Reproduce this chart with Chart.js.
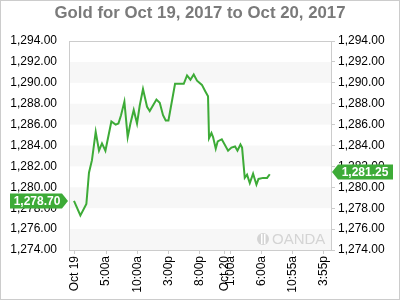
<!DOCTYPE html>
<html>
<head>
<meta charset="utf-8">
<script src="https://cdn.jsdelivr.net/npm/chart.js@4.4.1/dist/chart.umd.min.js"></script>
<style>
  html, body { margin: 0; padding: 0; background: #fff; }
  canvas { display: block; }
</style>
</head>
<body>
<canvas id="goldChart" width="400" height="300"></canvas>
<script>
// hours since Oct 19 00:00
const hours = [-0.16, 0.87, 1.83, 2.25, 2.73, 3.33, 3.86, 4.34, 4.89, 5.85, 6.54, 6.98, 7.40, 7.94, 8.47, 8.91, 9.44, 9.97, 10.40, 10.93,
  11.58, 12.01, 13.09, 13.62, 14.15, 14.58, 15.02, 16.08, 17.48, 18.01, 18.55, 19.08, 19.61, 20.40, 20.93, 21.38, 21.54, 21.93, 22.19,
  22.62, 22.94, 23.59, 24.60, 25.14, 25.72, 26.11, 26.59, 26.85, 27.28, 27.65, 28.09, 28.62, 29.16, 29.49, 30.23, 30.87, 31.30];
const prices = [1278.7, 1277.3, 1278.4, 1281.4, 1282.6, 1285.3, 1283.5, 1284.2, 1283.5, 1286.3, 1286.0, 1286.1, 1286.9, 1288.2, 1284.8,
  1286.1, 1287.4, 1286.1, 1287.8, 1289.4, 1287.7, 1287.3, 1288.4, 1288.1, 1286.9, 1286.4, 1286.4, 1289.9, 1289.9, 1290.7, 1290.3,
  1290.8, 1290.2, 1289.8, 1289.2, 1288.7, 1284.7, 1285.2, 1284.8, 1283.7, 1284.4, 1284.6, 1283.5, 1283.8, 1283.9, 1283.5, 1284.1,
  1283.8, 1280.9, 1281.2, 1280.4, 1281.3, 1280.25, 1280.8, 1280.9, 1280.9, 1281.25];

const tickHours = [0, 5, 10, 15, 20, 24, 25, 30, 34.92, 39.92];
const tickLabels = ['Oct 19', '5:00a', '10:00a', '3:00p', '8:00p', 'Oct 20', '1:00a', '6:00a', '10:55a', '3:55p'];

const yMin = 1274, yMax = 1294, yStep = 2;
const titleText = 'Gold for Oct 19, 2017 to Oct 20, 2017';

const green = '#3dab37';
const fmt = v => v.toLocaleString('en-US', { minimumFractionDigits: 2, maximumFractionDigits: 2 });

// bands, border, watermark, title, price badges
const decorPlugin = {
  id: 'decor',
  beforeDatasetsDraw(chart) {
    const { ctx, chartArea: a, scales } = chart;
    const y = scales.y;
    ctx.save();
    ctx.fillStyle = '#f7f7f7';
    for (let v = yMin; v < yMax; v += 2 * yStep) {
      const top = y.getPixelForValue(v + yStep), bot = y.getPixelForValue(v);
      ctx.fillRect(a.left, top, a.right - a.left, bot - top);
    }
    // watermark
    ctx.fillStyle = '#d4d4d4';
    ctx.beginPath();
    ctx.arc(263, 239, 6, 0, Math.PI * 2);
    ctx.fill();
    ctx.fillStyle = '#fff';
    ctx.fillRect(261, 234, 1.5, 10);
    ctx.fillRect(264, 234, 1.5, 10);
    ctx.fillStyle = '#d4d4d4';
    ctx.font = '15px "Liberation Sans", Arial, sans-serif';
    ctx.textBaseline = 'middle';
    ctx.textAlign = 'left';
    ctx.fillText('OANDA', 272, 240);
    ctx.restore();
  },
  afterDraw(chart) {
    const { ctx, chartArea: a, scales } = chart;
    ctx.save();
    ctx.strokeStyle = '#cccccc';
    ctx.lineWidth = 1;
    ctx.strokeRect(a.left + 0.5, a.top + 0.5, a.right - a.left - 1, a.bottom - a.top);
    ctx.strokeRect(0.5, 0.5, 399, 299);

    ctx.fillStyle = '#7a7a7a';
    ctx.font = 'bold 16.8px "Liberation Sans", Arial, sans-serif';
    ctx.textAlign = 'center';
    ctx.textBaseline = 'middle';
    ctx.fillText(titleText, 200, 13);

    // badges
    const y = scales.y;
    const first = prices[0], last = prices[prices.length - 1];
    ctx.font = 'bold 12px "Liberation Sans", Arial, sans-serif';
    const ly = Math.round(y.getPixelForValue(first));
    ctx.fillStyle = green;
    ctx.beginPath();
    ctx.moveTo(10, ly - 7.5); ctx.lineTo(62, ly - 7.5); ctx.lineTo(68, ly);
    ctx.lineTo(62, ly + 7.5); ctx.lineTo(10, ly + 7.5); ctx.closePath(); ctx.fill();
    ctx.fillStyle = '#fff';
    ctx.fillText(fmt(first), 37, ly + 0.5);

    const ry = Math.round(y.getPixelForValue(last)) - 2;
    ctx.fillStyle = green;
    ctx.beginPath();
    ctx.moveTo(332, ry); ctx.lineTo(338, ry - 7.5); ctx.lineTo(393, ry - 7.5);
    ctx.lineTo(393, ry + 7.5); ctx.lineTo(338, ry + 7.5); ctx.closePath(); ctx.fill();
    ctx.fillStyle = '#fff';
    ctx.fillText(fmt(last), 365, ry + 0.5);
    ctx.restore();
  }
};

const ctx = document.getElementById('goldChart').getContext('2d');
const chart = new Chart(ctx, {
  type: 'line',
  data: {
    datasets: [{
      data: hours.map((h, i) => ({ x: h, y: prices[i] })),
      borderColor: green,
      borderWidth: 2,
      pointRadius: 0,
      tension: 0,
      fill: false
    }]
  },
  options: {
    responsive: false,
    animation: false,
    events: [],
    layout: { padding: { top: 41, left: 0, right: 0, bottom: 0 } },
    plugins: { legend: { display: false }, title: { display: false }, tooltip: { enabled: false } },
    scales: {
      x: {
        type: 'linear',
        min: -0.96,
        max: 41.3,
        afterBuildTicks: scale => { scale.ticks = tickHours.map(v => ({ value: v })); },
        afterFit: scale => { scale.height = 50; },
        grid: { drawOnChartArea: false, drawTicks: true, tickLength: 4, color: '#cccccc' },
        border: { display: false },
        ticks: {
          autoSkip: false,
          maxRotation: 90,
          minRotation: 90,
          padding: 2,
          color: '#000',
          font: { family: '"Liberation Sans", Arial, sans-serif', size: 12 },
          callback: (value, index) => tickLabels[index]
        }
      },
      y: {
        position: 'left',
        min: yMin,
        max: yMax,
        afterFit: scale => { scale.width = 69; },
        grid: { display: false },
        border: { display: false },
        ticks: {
          stepSize: yStep,
          padding: 4,
          color: '#000',
          font: { family: '"Liberation Sans", Arial, sans-serif', size: 12 },
          callback: v => fmt(v)
        }
      },
      y2: {
        position: 'right',
        min: yMin,
        max: yMax,
        afterFit: scale => { scale.width = 68; },
        grid: { drawOnChartArea: false, drawTicks: true, tickLength: 3, color: '#cccccc' },
        border: { display: false },
        ticks: {
          stepSize: yStep,
          padding: 3,
          color: '#000',
          font: { family: '"Liberation Sans", Arial, sans-serif', size: 12 },
          callback: v => fmt(v)
        }
      }
    }
  },
  plugins: [decorPlugin]
});
</script>
</body>
</html>
